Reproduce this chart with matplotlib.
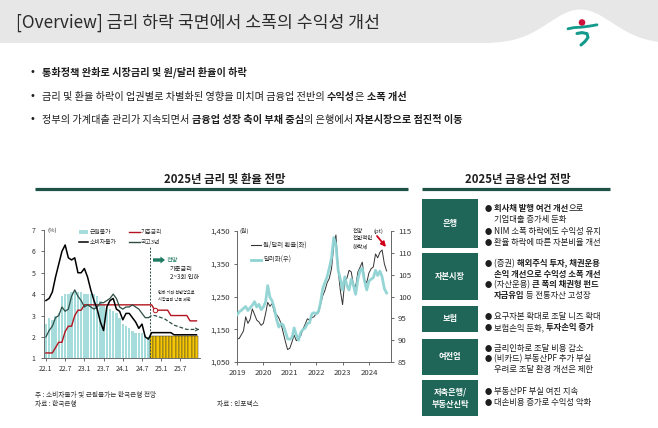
import matplotlib
matplotlib.use('Agg')
import matplotlib.pyplot as plt
import matplotlib.patches as mpatches
import numpy as np
import pandas as pd

plt.rcParams['font.family'] = ['Noto Sans CJK KR', 'DejaVu Sans']
plt.rcParams['axes.unicode_minus'] = False

# ======================= DATA =======================
title_text = '[Overview] 금리 하락 국면에서 소폭의 수익성 개선'

bullet_lines = [
    [('통화정책 완화로 시장금리 및 원/달러 환율이 하락', True)],
    [('금리 및 환율 하락이 업권별로 차별화된 영향을 미치며 금융업 전반의 ', False),
     ('수익성', True), ('은 ', False), ('소폭 개선', True)],
    [('정부의 가계대출 관리가 지속되면서 ', False), ('금융업 성장 축이 부채 중심', True),
     ('의 은행에서 ', False), ('자본시장으로 점진적 이동', True)],
]

left_title = '2025년 금리 및 환율 전망'
right_title = '2025년 금융산업 전망'

# Left chart (monthly, 22.1 ~ 25.12)
left_months = [f'{y}.{m}' for y in (22, 23, 24, 25) for m in range(1, 13)]
left_tick_labels = ['22.1', '22.7', '23.1', '23.7', '24.1', '24.7', '25.1', '25.7']
left_yticks = [1, 2, 3, 4, 5, 6, 7]

core_actual = [2.6, 2.9, 2.8, 3.0, 3.1, 3.9, 4.0, 4.0, 4.1, 4.2, 4.1, 4.1,
               4.0, 4.0, 4.0, 4.0, 3.9, 3.7, 3.5, 3.4, 3.3, 3.2, 3.1, 2.9,
               2.6, 2.5, 2.4, 2.3, 2.2, 2.2, 2.2, 2.1, 2.0]
core_forecast = [2.05, 2.05, 2.05, 2.05, 2.05, 2.05, 2.05, 2.05,
                 2.05, 2.05, 2.05, 2.05, 2.05, 2.05, 2.05]

cpi = [3.7, 3.8, 4.1, 4.8, 5.4, 6.0, 6.3, 5.7, 5.6, 5.7, 5.0, 5.0,
       5.2, 4.8, 4.2, 3.7, 3.3, 2.7, 2.3, 3.4, 3.7, 3.8, 3.3, 3.2,
       2.8, 3.1, 3.1, 2.9, 2.7, 2.4, 2.6, 2.0, 1.9,
       2.2, 2.2, 2.2, 2.2, 2.2, 2.2, 2.2, 2.1, 2.1, 2.1, 2.1, 2.1, 2.1, 2.1, 2.1]

base_rate = [1.25, 1.25, 1.25, 1.5, 1.75, 1.75, 2.25, 2.5, 2.5, 3.0, 3.25, 3.25,
             3.5, 3.5, 3.5, 3.5, 3.5, 3.5, 3.5, 3.5, 3.5, 3.5, 3.5, 3.5,
             3.5, 3.5, 3.5, 3.5, 3.5, 3.5, 3.5, 3.5, 3.5,
             3.5, 3.25, 3.25, 3.25, 3.25, 3.25, 3.0, 3.0, 3.0, 3.0, 3.0, 3.0,
             2.75, 2.75, 2.75]

ktb3_actual = [2.0, 2.3, 2.5, 2.9, 3.0, 3.4, 3.2, 3.3, 3.9, 4.2, 3.9, 3.7,
               3.4, 3.5, 3.4, 3.3, 3.4, 3.6, 3.6, 3.7, 3.8, 4.0, 3.8, 3.4,
               3.3, 3.4, 3.4, 3.5, 3.4, 3.3, 3.1, 2.9, 2.9]
ktb3_forecast = [3.0, 3.0, 2.95, 2.9, 2.85, 2.75, 2.65, 2.55, 2.5, 2.45,
                 2.4, 2.35, 2.35, 2.35, 2.35]

left_legend = ['근원물가', '기준금리', '소비자물가', '국고3년']

# Middle chart (monthly, 2019.1 ~ 2024.9)
krw = [1120, 1122, 1133, 1145, 1188, 1168, 1180, 1212, 1195, 1178, 1172, 1162,
       1168, 1198, 1232, 1220, 1228, 1202, 1195, 1185, 1168, 1140, 1112, 1088,
       1092, 1112, 1132, 1115, 1122, 1130, 1150, 1165, 1182, 1178, 1185, 1188,
       1198, 1200, 1225, 1252, 1268, 1292, 1305, 1335, 1405, 1438, 1330, 1268,
       1225, 1300, 1305, 1330, 1325, 1285, 1280, 1325, 1340, 1355, 1300, 1292,
       1322, 1335, 1340, 1380, 1368, 1385, 1392, 1350, 1328]
dxy = [95.8, 96.5, 96.8, 97.3, 97.7, 96.8, 97.4, 98.0, 98.8, 97.6, 98.2, 97.0,
       97.6, 98.8, 102.5, 99.8, 99.0, 97.2, 94.8, 93.0, 93.8, 93.5, 92.0, 90.3,
       90.2, 90.6, 92.8, 91.2, 90.0, 91.8, 92.4, 92.8, 93.8, 94.0, 96.0, 96.3,
       96.0, 96.6, 98.5, 101.8, 103.2, 104.5, 106.5, 108.8, 113.5, 111.8, 106.0, 104.0,
       101.5, 104.5, 102.5, 101.5, 104.0, 102.5, 100.5, 104.0, 106.0, 106.5, 103.5, 101.5,
       103.5, 104.0, 104.3, 106.0, 104.8, 105.8, 104.5, 101.8, 100.8]
fx_years = ['2019', '2020', '2021', '2022', '2023', '2024']
krw_ticks = [1050, 1150, 1250, 1350, 1450]
dxy_ticks = [85, 90, 95, 100, 105, 110, 115]
mid_legend = ['원/달러 환율(좌)', '달러화(우)']

# Right table
sectors = ['은행', '자본시장', '보험', '여전업', '저축은행/\n부동산신탁']
sector_items = [
    [[[('회사채 발행 여건 개선', True), ('으로', False)], [('기업대출 증가세 둔화', False)]],
     [[('NIM 소폭 하락에도 수익성 유지', False)]],
     [[('환율 하락에 따른 자본비율 개선', False)]]],
    [[[('(증권) ', False), ('해외주식 투자, 채권운용', True)], [('손익 개선으로 수익성 소폭 개선', True)]],
     [[('(자산운용) ', False), ('큰 폭의 채권형 펀드', True)], [('자금유입', True), (' 등 전통자산 고성장', False)]]],
    [[[('요구자본 확대로 조달 니즈 확대', False)]],
     [[('보험손익 둔화, ', False), ('투자손익 증가', True)]]],
    [[[('금리인하로 조달 비용 감소', False)]],
     [[('(비카드) 부동산PF 추가 부실', False)], [('우려로 조달 환경 개선은 제한', False)]]],
    [[[('부동산PF 부실 여진 지속', False)]],
     [[('대손비용 증가로 수익성 악화', False)]]],
]

notes_left = ['주 : 소비자물가 및 근원물가는 한국은행 전망', '자료 : 한국은행']
note_mid = '자료 : 인포맥스'

# ======================= LAYOUT / STYLE =======================
W, H = 658, 428
DARK_GREEN = '#1e5247'
BOX_GREEN = '#1f6658'
TEAL_BAR = '#a6dcdc'
TEAL_LINE = '#8fd3d3'
YELLOW = '#f6c600'
RED = '#b3141f'
KTB_GREEN = '#2c4d44'
TXT = '#1e1e1e'

fig = plt.figure(figsize=(W / 100, H / 100), dpi=100)
fig.patch.set_facecolor('white')


def frac(x0, y0, x1, y1):
    return [x0 / W, 1 - y1 / H, (x1 - x0) / W, (y1 - y0) / H]


# ---------- Left chart ----------
ax1 = fig.add_axes(frac(44, 230, 200, 358.3))
ax1.patch.set_alpha(0)
n_act = len(core_actual)
xa = np.arange(n_act)
xf = np.arange(n_act, n_act + len(core_forecast))
xall = np.arange(len(cpi))
ax1.bar(xa, core_actual, width=0.75, color=TEAL_BAR, zorder=1)
ax1.bar(xf, core_forecast, width=1.0, color=YELLOW, edgecolor='#3a3a3a', linewidth=0.35, zorder=1)
ax1.plot(xall, base_rate, color=RED, lw=1.0, zorder=3)
ax1.plot(xall, cpi, color='black', lw=1.1, zorder=4)
ax1.plot(xa, ktb3_actual, color=KTB_GREEN, lw=0.9, zorder=3)
kx = np.concatenate([[xa[-1]], xf])
ky = [ktb3_actual[-1]] + ktb3_forecast
ax1.plot(kx, ky, color=KTB_GREEN, lw=0.9, ls=(0, (3, 1.6)), zorder=3)
ax1.annotate('', xy=(kx[-1] + 0.9, ky[-1]), xytext=(kx[-1] - 0.3, ky[-1]),
             arrowprops=dict(arrowstyle='->', color=KTB_GREEN, lw=0.8, mutation_scale=5))
ax1.plot([n_act + 1], [base_rate[n_act + 1]], 'o', ms=3.2, mfc='white', mec=RED, mew=0.7, zorder=5)
ax1.plot([n_act - 0.5, n_act - 0.5], [1, 6.2], color=KTB_GREEN, lw=0.7, ls=(0, (2, 1.5)), zorder=2)
ax1.set_xlim(-0.6, 48.1)
ax1.set_ylim(1, 7)
ax1.set_yticks(left_yticks)
ax1.set_yticklabels([str(v) for v in left_yticks])
ax1.set_xticks([left_months.index(l) for l in left_tick_labels])
ax1.set_xticklabels(left_tick_labels)
ax1.tick_params(axis='both', labelsize=5, colors='#333333', length=2, width=0.5)
ax1.tick_params(axis='y', pad=4)
ax1.tick_params(axis='x', pad=3)
for s in ['top', 'right']:
    ax1.spines[s].set_visible(False)
for s in ['left', 'bottom']:
    ax1.spines[s].set_color('#555555')
    ax1.spines[s].set_linewidth(0.6)

# ---------- Middle chart ----------
fx_dates = pd.date_range('2019-01-01', periods=len(krw), freq='MS')
ax2 = fig.add_axes(frac(237, 231, 391, 362))
ax2.patch.set_alpha(0)
ax2.plot(fx_dates, krw, color='#333333', lw=0.7, zorder=2)
ax2.set_ylim(krw_ticks[0], krw_ticks[-1])
ax2.set_yticks(krw_ticks)
ax2.set_yticklabels([f'{v:,}' for v in krw_ticks])
ax3 = ax2.twinx()
ax3.plot(fx_dates, dxy, color=TEAL_LINE, lw=2.0, alpha=0.95, zorder=3)
ax3.set_ylim(dxy_ticks[0], dxy_ticks[-1])
ax3.set_yticks(dxy_ticks)
ax3.set_yticklabels([str(v) for v in dxy_ticks])
ax2.set_xlim(pd.Timestamp('2019-01-01'), pd.Timestamp('2024-11-01'))
ax2.set_xticks([pd.Timestamp(f'{y}-01-01') for y in fx_years])
ax2.set_xticklabels(fx_years)
for a in (ax2, ax3):
    a.tick_params(axis='both', labelsize=5.6, colors='#333333', length=2, width=0.5, pad=3)
    a.spines['top'].set_visible(False)
    for s in ['left', 'right', 'bottom']:
        a.spines[s].set_color('#666666')
        a.spines[s].set_linewidth(0.6)

# ---------- Overlay (pixel coordinates) ----------
ov = fig.add_axes([0, 0, 1, 1], zorder=10)
ov.set_xlim(0, W)
ov.set_ylim(H, 0)
ov.axis('off')
renderer = fig.canvas.get_renderer()


def text_width(s, size, bold):
    t = ov.text(0, 0, '|' + s + '|', fontsize=size, fontweight='bold' if bold else 'normal')
    w1 = t.get_window_extent(renderer).width
    t.set_text('||')
    w2 = t.get_window_extent(renderer).width
    t.remove()
    return w1 - w2


def rich(x, yc, segs, size, color=TXT):
    base = yc + 0.36 * size * 100 / 72
    for s, b in segs:
        ov.text(x, base, s, fontsize=size, fontweight='bold' if b else 'normal',
                color=color, ha='left', va='baseline')
        x += text_width(s, size, b)
    return x


# title band with hump
ov.add_patch(mpatches.Rectangle((0, 0), W, 43, color='#e7e7e7', zorder=0, lw=0))
hx = np.linspace(490, W, 300)
hy = 43 - 34 * np.exp(-((hx - 580) / 45) ** 2)
ov.fill_between(hx, hy, 44, color='white', zorder=1, lw=0)
# logo
LOGO_TEAL = '#139a8c'
ov.add_patch(mpatches.Circle((582, 22.5), 2.6, color='#d0103a', zorder=3))
ov.plot([568, 574, 581, 589, 597], [28.8, 27.6, 27.2, 26.2, 24.8], color=LOGO_TEAL, lw=2.0,
        solid_capstyle='round', zorder=3)
ov.plot([577, 582, 587, 588, 585, 581], [33.5, 32.6, 33.6, 37.5, 41.5, 45], color=LOGO_TEAL, lw=2.2,
        solid_capstyle='round', zorder=3)

rich(16, 22, [(title_text, False)], 12.4, color='#2b2b2b')

# bullets
for yc, segs in zip([72, 96, 119], bullet_lines):
    ov.text(32, yc, '•', fontsize=7, ha='center', va='center', color=TXT, family='DejaVu Sans')
    rich(42, yc, segs, 7.3)

# section headers
ov.text(224.5, 179, left_title, fontsize=8.2, fontweight='bold', ha='center', va='center', color=TXT)
ov.plot([35, 408], [189, 189], color=DARK_GREEN, lw=2.3, solid_capstyle='butt')
ov.text(517.5, 179, right_title, fontsize=8.2, fontweight='bold', ha='center', va='center', color=TXT)
ov.plot([422, 610], [189, 189], color=DARK_GREEN, lw=2.3, solid_capstyle='butt')

# left chart legend and notes
ov.text(47, 230, '(%)', fontsize=4.3, ha='left', va='center', color='#333333')
ov.add_patch(mpatches.Rectangle((79, 230.2), 9, 3.8, color=TEAL_BAR, lw=0))
ov.text(90, 232, left_legend[0], fontsize=4.2, ha='left', va='center', color='#333333')
ov.plot([129, 140], [232, 232], color=RED, lw=1.0)
ov.text(141, 232, left_legend[1], fontsize=4.2, ha='left', va='center', color='#333333')
ov.plot([79, 88], [242, 242], color='black', lw=1.1)
ov.text(90, 242, left_legend[2], fontsize=4.2, ha='left', va='center', color='#333333')
ov.plot([129, 140], [242, 242], color=KTB_GREEN, lw=1.0)
ov.text(141, 242, left_legend[3], fontsize=4.2, ha='left', va='center', color='#333333')

ov.add_patch(mpatches.FancyArrow(153, 260, 12, 0, width=3.4, head_width=7, head_length=4.5,
                                 length_includes_head=True, color='#1f7a62', lw=0))
ov.text(167, 260, '전망', fontsize=4.5, ha='left', va='center', color='#1f7a62')
ov.text(170, 269, '기준금리', fontsize=4.5, ha='left', va='center', color=TXT)
ov.text(170, 277, '2~3회 인하', fontsize=4.5, ha='left', va='center', color=TXT)
ov.text(158, 292, '인하 기대 선반영으로', fontsize=3.0, ha='left', va='center', color=TXT)
ov.text(158, 299, '시장금리 낙폭 제한', fontsize=3.0, ha='left', va='center', color=TXT)

ov.text(35, 395, notes_left[0], fontsize=4.8, ha='left', va='center', color='#333333')
ov.text(35, 404, notes_left[1], fontsize=4.8, ha='left', va='center', color='#333333')

# middle chart legend and notes
ov.text(239, 231, '(원)', fontsize=4.3, ha='left', va='center', color='#333333')
ov.text(373, 231, '(pt)', fontsize=4.3, ha='left', va='center', color='#333333')
ov.plot([251, 261], [245, 245], color='#333333', lw=0.8)
ov.text(263, 245, mid_legend[0], fontsize=4.6, ha='left', va='center', color='#333333')
ov.plot([251, 261], [260, 260], color=TEAL_LINE, lw=2.0)
ov.text(263, 260, mid_legend[1], fontsize=4.6, ha='left', va='center', color='#333333')
ov.text(353, 231, '전망', fontsize=4.0, ha='left', va='center', color=TXT)
ov.text(353, 238.5, '전반적인', fontsize=4.0, ha='left', va='center', color=TXT)
ov.text(353, 246, '하락세', fontsize=4.0, ha='left', va='center', color=TXT)
ov.annotate('', xy=(386, 247), xytext=(377, 236),
            arrowprops=dict(arrowstyle='-|>', color='#d0021b', lw=1.3, mutation_scale=7,
                            shrinkA=0, shrinkB=0))
ov.text(217, 404, note_mid, fontsize=4.8, ha='left', va='center', color='#333333')

# right table
box_ranges = [(199, 248), (253, 300), (306, 332), (339, 375), (380, 416)]
line_ys = [[208, 218.5, 231, 242], [263, 273.5, 284.5, 295], [316, 327], [348, 358.5, 369], [391, 402]]
for name, (y0, y1), items, ys in zip(sectors, box_ranges, sector_items, line_ys):
    ov.add_patch(mpatches.Rectangle((422, y0), 56, y1 - y0, color=BOX_GREEN, lw=0))
    ov.text(450, (y0 + y1) / 2, name, fontsize=5.9, fontweight='bold', color='white',
            ha='center', va='center', linespacing=1.5)
    k = 0
    for item in items:
        for j, line in enumerate(item):
            yc = ys[k]
            if j == 0:
                rich(485, yc, [('●', False)], 5.2)
            rich(494, yc, line, 6.0)
            k += 1

fig.savefig('out.png', dpi=100)
